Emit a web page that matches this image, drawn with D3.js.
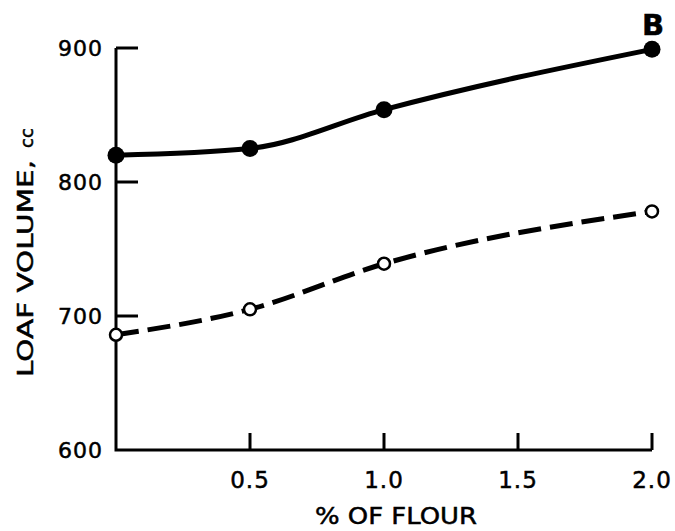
<!DOCTYPE html>
<html>
<head>
<meta charset="utf-8">
<script src="https://cdn.jsdelivr.net/npm/d3@7"></script>
<style>
body { margin: 0; background: #fff; }
text { font-family: "DejaVu Sans", sans-serif; fill: #000; stroke: #000; stroke-width: 0.5px; }
</style>
</head>
<body>
<div id="chart"></div>
<script>
var flour = [0, 0.5, 1.0, 2.0];
var solidVol = [820, 825, 854, 899];
var openVol = [686, 705, 739, 778];
var xTicks = [0.5, 1.0, 1.5, 2.0];
var yTicks = [600, 700, 800, 900];

function init(){
	var w = 675, h = 531;
	var x = d3.scaleLinear().domain([0, 2]).range([116, 652]);
	var y = d3.scaleLinear().domain([600, 900]).range([450, 48]);

	var svg = d3.select("#chart").append("svg")
				.attr("width", w).attr("height", h);

	// axes
	svg.append("path")
		.attr("d", "M" + x(0) + "," + y(900) + "V" + y(600) + "H" + x(2))
		.attr("fill", "none").attr("stroke", "#000").attr("stroke-width", 3);

	svg.selectAll(".yt").data(yTicks.slice(1)).enter().append("line")
		.attr("x1", x(0)).attr("x2", x(0) + 22)
		.attr("y1", function(d){ return y(d); })
		.attr("y2", function(d){ return y(d); })
		.attr("stroke", "#000").attr("stroke-width", 3);

	svg.selectAll(".yl").data(yTicks).enter().append("text")
		.attr("x", 103)
		.attr("y", function(d){ return y(d); })
		.attr("dy", "0.36em")
		.attr("text-anchor", "end")
		.style("font-size", "22px")
		.style("letter-spacing", "1px")
		.text(function(d){ return d; });

	svg.selectAll(".xt").data(xTicks).enter().append("line")
		.attr("x1", function(d){ return x(d); })
		.attr("x2", function(d){ return x(d); })
		.attr("y1", y(600)).attr("y2", y(600) - 17)
		.attr("stroke", "#000").attr("stroke-width", 3);

	svg.selectAll(".xl").data(xTicks).enter().append("text")
		.attr("x", function(d){ return x(d); })
		.attr("y", 480)
		.attr("dy", "0.36em")
		.attr("text-anchor", "middle")
		.style("font-size", "23px")
		.style("letter-spacing", "1px")
		.text(function(d){ return d3.format(".1f")(d); });

	svg.append("text")
		.attr("x", 315).attr("y", 524)
		.attr("textLength", 162)
		.attr("lengthAdjust", "spacingAndGlyphs")
		.style("font-size", "23px")
		.text("% OF FLOUR");

	svg.append("text")
		.attr("transform", "translate(33,377) rotate(-90)")
		.attr("textLength", 217)
		.attr("lengthAdjust", "spacingAndGlyphs")
		.style("font-size", "22px")
		.text("LOAF VOLUME,");
	svg.append("text")
		.attr("transform", "translate(33,148) rotate(-90)")
		.style("font-size", "18px")
		.text("cc");

	svg.append("text")
		.attr("x", 653).attr("y", 35)
		.attr("text-anchor", "middle")
		.style("font-size", "29px")
		.style("font-weight", "bold")
		.text("B");

	var line = d3.line()
		.x(function(d){ return x(d[0]); })
		.y(function(d){ return y(d[1]); })
		.curve(d3.curveMonotoneX);

	var solid = flour.map(function(f, i){ return [f, solidVol[i]]; });
	var open = flour.map(function(f, i){ return [f, openVol[i]]; });

	svg.append("path").datum(open).attr("d", line)
		.attr("fill", "none").attr("stroke", "#000").attr("stroke-width", 5)
		.attr("stroke-dasharray", "23,9");
	svg.append("path").datum(solid).attr("d", line)
		.attr("fill", "none").attr("stroke", "#000").attr("stroke-width", 5);

	svg.selectAll(".op").data(open).enter().append("circle")
		.attr("cx", function(d){ return x(d[0]); })
		.attr("cy", function(d){ return y(d[1]); })
		.attr("r", 6).attr("fill", "#fff")
		.attr("stroke", "#000").attr("stroke-width", 2.5);

	svg.selectAll(".sp").data(solid).enter().append("circle")
		.attr("cx", function(d){ return x(d[0]); })
		.attr("cy", function(d){ return y(d[1]); })
		.attr("r", 8.5).attr("fill", "#000");
}

window.onload = init;
</script>
</body>
</html>
